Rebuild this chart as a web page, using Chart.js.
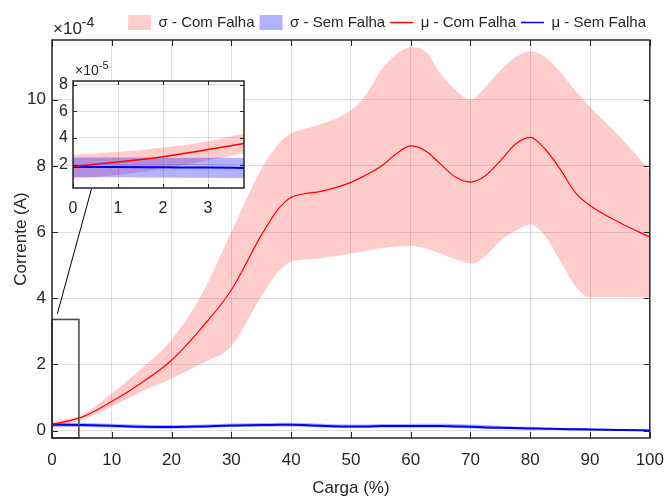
<!DOCTYPE html>
<html>
<head>
<meta charset="utf-8">
<script src="https://cdn.jsdelivr.net/npm/chart.js@4.4.1/dist/chart.umd.min.js"></script>
<style>
  html, body { margin: 0; padding: 0; background: #fff; }
  #wrap { position: relative; width: 664px; height: 499px; }
  #main { position: absolute; left: 0; top: 0; }
  #inset { position: absolute; left: 40px; top: 55px; }
</style>
</head>
<body>
<div id="wrap">
  <canvas id="main" width="664" height="499"></canvas>
  <canvas id="inset" width="215" height="170"></canvas>
</div>
<script>
// --- Data (Corrente in units of 1e-4 A) ---
const carga  = [0, 5, 10, 15, 20, 25, 30, 35, 38, 40, 42, 45, 50, 52.5, 55, 57.5, 60, 62.5, 65, 67.5, 70, 72.5, 75, 77.5, 80, 82.5, 85, 87.5, 90, 95, 100];
const muCom  = [0.19, 0.41, 0.88, 1.45, 2.13, 3.10, 4.25, 5.90, 6.73, 7.05, 7.15, 7.23, 7.50, 7.72, 7.98, 8.35, 8.60, 8.45, 8.05, 7.66, 7.51, 7.70, 8.15, 8.65, 8.86, 8.50, 7.90, 7.20, 6.80, 6.28, 5.85];
const supCom = [0.275, 0.48, 1.13, 1.88, 2.75, 4.10, 6.00, 7.90, 8.68, 8.98, 9.10, 9.26, 9.68, 10.15, 10.88, 11.35, 11.58, 11.45, 10.78, 10.28, 10.00, 10.38, 10.88, 11.28, 11.46, 11.28, 10.83, 10.28, 9.78, 8.88, 7.85];
const infCom = [0.095, 0.33, 0.73, 1.18, 1.58, 2.03, 2.55, 4.05, 4.83, 5.10, 5.16, 5.21, 5.35, 5.43, 5.51, 5.56, 5.58, 5.51, 5.35, 5.18, 5.05, 5.28, 5.73, 6.03, 6.23, 5.88, 5.13, 4.38, 4.03, 4.03, 4.03];
const muSem  = [0.18, 0.17, 0.15, 0.12, 0.11, 0.13, 0.16, 0.17, 0.18, 0.18, 0.17, 0.15, 0.13, 0.13, 0.14, 0.14, 0.14, 0.14, 0.14, 0.13, 0.12, 0.10, 0.09, 0.08, 0.07, 0.06, 0.05, 0.045, 0.04, 0.02, 0.01];
const supSem = [0.24, 0.23, 0.21, 0.18, 0.17, 0.19, 0.22, 0.23, 0.24, 0.24, 0.23, 0.21, 0.19, 0.19, 0.20, 0.20, 0.21, 0.21, 0.21, 0.20, 0.19, 0.17, 0.15, 0.13, 0.12, 0.10, 0.09, 0.08, 0.07, 0.05, 0.03];
const infSem = [0.12, 0.11, 0.10, 0.07, 0.06, 0.08, 0.11, 0.12, 0.13, 0.13, 0.12, 0.10, 0.08, 0.08, 0.09, 0.09, 0.09, 0.09, 0.09, 0.08, 0.07, 0.06, 0.05, 0.04, 0.03, 0.03, 0.02, 0.01, 0.01, 0.00, -0.01];

// --- Inset data (Corrente in units of 1e-5 A) ---
const cargaZoom  = [0, 1, 2, 3, 3.8];
const muComZoom  = [1.875, 2.20, 2.60, 3.13, 3.58];
const supComZoom = [2.75, 2.95, 3.28, 3.75, 4.33];
const infComZoom = [0.95, 1.25, 1.70, 2.33, 2.83];
const muSemZoom  = [1.83, 1.82, 1.80, 1.78, 1.75];
const supSemZoom = [2.53, 2.53, 2.52, 2.51, 2.50];
const infSemZoom = [1.08, 1.06, 1.04, 1.02, 1.00];

const xTicks = [0, 10, 20, 30, 40, 50, 60, 70, 80, 90, 100];
const yTicks = [0, 2, 4, 6, 8, 10];
const xTicksZoom = [0, 1, 2, 3];
const yTicksZoom = [2, 4, 6, 8];

const legendOrder = [4, 2, 0, 1]; // dataset indices shown in the legend

// zoomed region and connector, in main-axis data units
const zoomRegion = { xMax: 4.5, yMax: 3.36 };
const connector = { from: [0.89, 3.53], to: [6.6, 7.3] };

// --- Styles ---
const AXIS_COLOR = '#262626';
const GRID_COLOR = 'rgba(38,38,38,0.15)';
const PINK = 'rgba(255,0,0,0.2)';
const LILAC = 'rgba(0,0,255,0.3)';
const FAMILY = '"Liberation Sans", Arial, sans-serif';
const SIZE = 17;
const LEGEND_SIZE = 15;
const INSET_SIZE = 16;

Chart.defaults.font.family = FAMILY;
Chart.defaults.color = AXIS_COLOR;

const pts = (xs, ys) => ys.map((y, i) => ({ x: xs[i], y }));

function buildDatasets(xs, mc, sc, ic, ms, ss, is, redWidth) {
  return [
    { label: 'μ - Com Falha', data: pts(xs, mc), borderColor: '#ff0000', borderWidth: redWidth, pointStyle: 'line' },
    { label: 'μ - Sem Falha', data: pts(xs, ms), borderColor: '#0000ff', borderWidth: 2, pointStyle: 'line' },
    { label: 'σ - Sem Falha', data: pts(xs, ss), borderColor: 'transparent', borderWidth: 0, backgroundColor: LILAC, fill: '+1', pointStyle: 'rect' },
    { label: '', data: pts(xs, is), borderColor: 'transparent', borderWidth: 0 },
    { label: 'σ - Com Falha', data: pts(xs, sc), borderColor: 'transparent', borderWidth: 0, backgroundColor: PINK, fill: '+1', pointStyle: 'rect' },
    { label: '', data: pts(xs, ic), borderColor: 'transparent', borderWidth: 0 },
  ];
}

// --- Plugins ---
// box around the plot area with inward ticks on all four sides
const framePlugin = {
  id: 'frame',
  afterDraw(chart, args, opts) {
    const { ctx, chartArea: a, scales } = chart;
    const L = opts.tickLen;
    ctx.save();
    ctx.strokeStyle = AXIS_COLOR;
    ctx.lineWidth = 1;
    ctx.beginPath();
    scales.x.ticks.forEach(t => {
      const px = Math.round(scales.x.getPixelForValue(t.value)) + 0.5;
      ctx.moveTo(px, a.bottom); ctx.lineTo(px, a.bottom - L);
      ctx.moveTo(px, a.top); ctx.lineTo(px, a.top + L);
    });
    scales.y.ticks.forEach(t => {
      const py = Math.round(scales.y.getPixelForValue(t.value)) + 0.5;
      ctx.moveTo(a.left, py); ctx.lineTo(a.left + L, py);
      ctx.moveTo(a.right, py); ctx.lineTo(a.right - L, py);
    });
    ctx.stroke();
    ctx.lineWidth = opts.lineWidth;
    ctx.strokeRect(a.left, a.top, a.right - a.left, a.bottom - a.top);
    ctx.restore();
  }
};

// "x10^n" multiplier above the y axis
const exponentPlugin = {
  id: 'exponent',
  afterDraw(chart, args, opts) {
    const { ctx, chartArea: a } = chart;
    ctx.save();
    ctx.fillStyle = AXIS_COLOR;
    ctx.textBaseline = 'alphabetic';
    ctx.font = `${opts.size}px ${FAMILY}`;
    const base = '\u00d710';
    const x0 = a.left + opts.dx;
    const y0 = a.top - opts.dy;
    ctx.fillText(base, x0, y0);
    const w = ctx.measureText(base).width;
    ctx.font = `${opts.supSize}px ${FAMILY}`;
    ctx.fillText(opts.power, x0 + w, y0 - opts.raise);
    ctx.restore();
  }
};

const zoomBoxPlugin = {
  id: 'zoomBox',
  afterDatasetsDraw(chart) {
    const { ctx, scales: { x, y } } = chart;
    ctx.save();
    ctx.strokeStyle = '#4d4d4d';
    ctx.lineWidth = 1.6;
    const x0 = x.getPixelForValue(x.min), x1 = x.getPixelForValue(zoomRegion.xMax);
    const y0 = y.getPixelForValue(y.min), y1 = y.getPixelForValue(zoomRegion.yMax);
    ctx.strokeRect(x0, y1, x1 - x0, y0 - y1);
    ctx.strokeStyle = '#000';
    ctx.lineWidth = 1;
    ctx.beginPath();
    ctx.moveTo(x.getPixelForValue(connector.from[0]), y.getPixelForValue(connector.from[1]));
    ctx.lineTo(x.getPixelForValue(connector.to[0]), y.getPixelForValue(connector.to[1]));
    ctx.stroke();
    ctx.restore();
  }
};

const whiteAreaPlugin = {
  id: 'whiteArea',
  beforeDraw(chart) {
    const { ctx, chartArea: a } = chart;
    ctx.save();
    ctx.fillStyle = '#fff';
    ctx.fillRect(a.left, a.top, a.right - a.left, a.bottom - a.top);
    ctx.restore();
  }
};

// label offset goes through an invisible tick mark so it doesn't widen the side padding
function axis(opts) {
  return {
    type: 'linear',
    min: opts.min,
    max: opts.max,
    z: 1,
    afterBuildTicks: s => { s.ticks = opts.ticks.map(v => ({ value: v })); },
    afterFit: s => { if (opts.width) s.width = opts.width; if (opts.height) s.height = opts.height; },
    grid: { color: GRID_COLOR, drawTicks: true, tickLength: opts.gap, tickColor: 'transparent', lineWidth: 1 },
    border: { display: false },
    ticks: { padding: 0, font: { size: opts.size }, color: AXIS_COLOR, autoSkip: false, maxRotation: 0 },
    title: opts.title ? { display: true, text: opts.title, color: AXIS_COLOR, font: { size: SIZE }, padding: opts.titlePad } : { display: false },
  };
}

// --- Main chart ---
new Chart(document.getElementById('main'), {
  type: 'line',
  data: { datasets: buildDatasets(carga, muCom, supCom, infCom, muSem, supSem, infSem, 1.2) },
  options: {
    responsive: false,
    animation: false,
    layout: { padding: { top: 10, right: 13, bottom: 0, left: 0 } },
    elements: { point: { radius: 0 }, line: { cubicInterpolationMode: 'monotone', fill: false } },
    plugins: {
      tooltip: { enabled: false },
      legend: {
        position: 'top',
        align: 'end',
        labels: {
          usePointStyle: true,
          pointStyleWidth: 23,
          boxHeight: 17,
          padding: 5,
          color: AXIS_COLOR,
          font: { size: LEGEND_SIZE },
          generateLabels: chart => legendOrder.map(i => {
            const ds = chart.data.datasets[i];
            const isBand = ds.pointStyle === 'rect';
            return {
              text: ds.label,
              pointStyle: ds.pointStyle,
              fillStyle: isBand ? ds.backgroundColor : 'transparent',
              strokeStyle: isBand ? 'transparent' : ds.borderColor,
              lineWidth: isBand ? 0 : 1.5,
              fontColor: AXIS_COLOR,
              hidden: false,
              datasetIndex: i,
            };
          }),
        },
      },
      frame: { tickLen: 6, lineWidth: 1.5 },
      exponent: { size: SIZE, supSize: 14, power: '-4', dx: 1, dy: 6, raise: 7 },
    },
    scales: {
      x: axis({ min: 0, max: 100, ticks: xTicks, height: 61, gap: 12, size: SIZE, title: 'Carga (%)', titlePad: { top: 0, bottom: 0 } }),
      y: axis({ min: -0.22, max: 11.8, ticks: yTicks, width: 52, gap: 6, size: SIZE, title: 'Corrente (A)', titlePad: { top: 11, bottom: 0 } }),
    },
  },
  plugins: [zoomBoxPlugin, framePlugin, exponentPlugin],
});

// --- Inset chart ---
new Chart(document.getElementById('inset'), {
  type: 'line',
  data: { datasets: buildDatasets(cargaZoom, muComZoom, supComZoom, infComZoom, muSemZoom, supSemZoom, infSemZoom, 1.5) },
  options: {
    responsive: false,
    animation: false,
    layout: { padding: { top: 26, right: 11, bottom: 0, left: 0 } },
    elements: { point: { radius: 0 }, line: { cubicInterpolationMode: 'monotone', fill: false } },
    plugins: {
      tooltip: { enabled: false },
      legend: { display: false },
      frame: { tickLen: 4, lineWidth: 1.5 },
      exponent: { size: 14, supSize: 11, power: '-5', dx: 2, dy: 6, raise: 6 },
    },
    scales: {
      x: axis({ min: 0, max: 3.8, ticks: xTicksZoom, height: 37, gap: 11, size: INSET_SIZE }),
      y: axis({ min: 0.25, max: 8.27, ticks: yTicksZoom, width: 33, gap: 5, size: INSET_SIZE }),
    },
  },
  plugins: [whiteAreaPlugin, framePlugin, exponentPlugin],
});
</script>
</body>
</html>
